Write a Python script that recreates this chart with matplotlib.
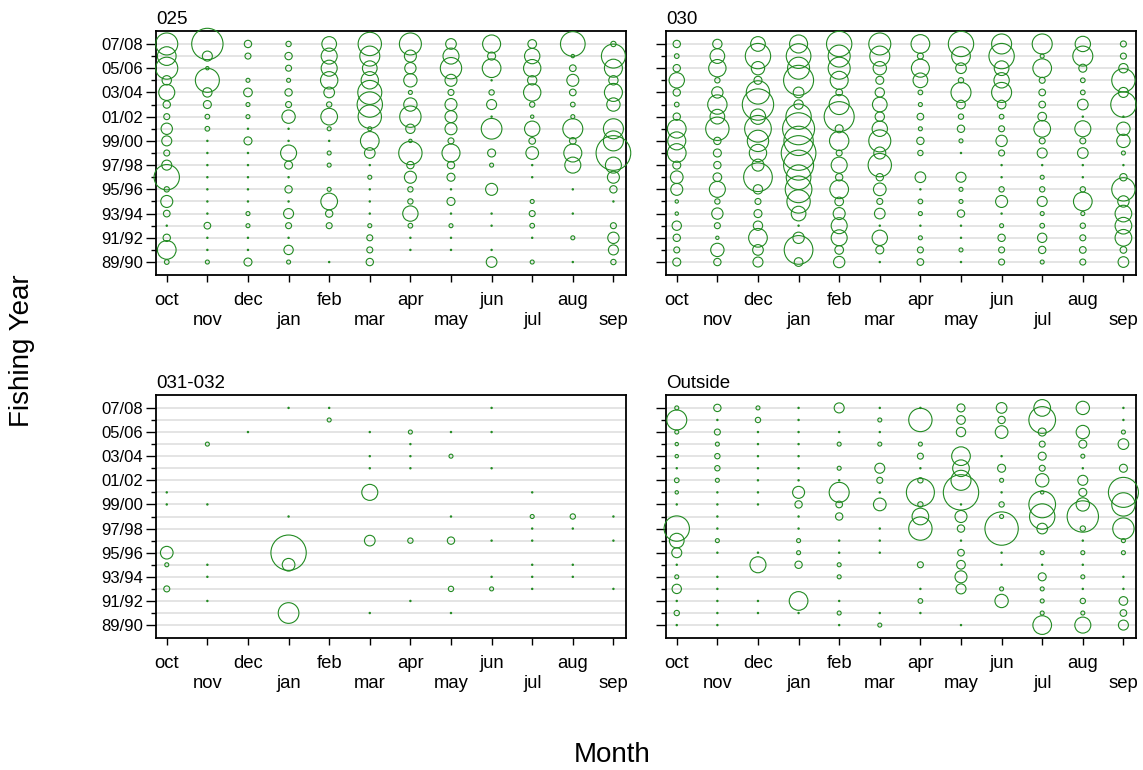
import numpy as np
import matplotlib
matplotlib.use("Agg")
import matplotlib.pyplot as plt

plt.rcParams['font.family'] = ['Liberation Sans', 'DejaVu Sans']

months = ['oct', 'nov', 'dec', 'jan', 'feb', 'mar', 'apr', 'may', 'jun', 'jul', 'aug', 'sep']
# fishing years from top (07/08) to bottom (89/90)
years_desc = ['07/08', '06/07', '05/06', '04/05', '03/04', '02/03', '01/02', '00/01', '99/00',
              '98/99', '97/98', '96/97', '95/96', '94/95', '93/94', '92/93', '91/92', '90/91', '89/90']
panel_names = ['025', '030', '031-032', 'Outside']

# relative catch, one list per month (values listed from 07/08 down to 89/90)
catch_025 = [
    [1089, 784, 1089, 196, 576, 121, 81, 289, 225, 81, 225, 1444, 64, 324, 100, 4, 121, 784, 49],
    [2209, 225, 25, 1296, 196, 144, 49, 49, 4, 4, 4, 4, 4, 4, 4, 100, 4, 4, 36],
    [121, 81, 0, 36, 169, 36, 36, 4, 144, 4, 4, 4, 4, 4, 36, 36, 4, 4, 144],
    [64, 121, 81, 36, 121, 81, 400, 4, 4, 576, 144, 4, 121, 4, 225, 81, 4, 196, 36],
    [484, 576, 576, 676, 256, 64, 625, 36, 4, 36, 36, 0, 36, 625, 121, 81, 0, 0, 4],
    [1225, 900, 484, 676, 1296, 1444, 1225, 36, 784, 256, 4, 36, 4, 4, 4, 36, 81, 81, 121],
    [1089, 324, 289, 400, 36, 400, 1024, 196, 25, 1225, 121, 324, 64, 64, 529, 49, 4, 4, 0],
    [256, 576, 1024, 324, 81, 324, 324, 324, 81, 729, 121, 144, 4, 144, 4, 36, 4, 4, 0],
    [729, 144, 784, 4, 64, 225, 4, 961, 0, 144, 36, 0, 324, 0, 4, 4, 0, 4, 256],
    [169, 529, 676, 196, 676, 64, 25, 529, 100, 361, 4, 4, 0, 36, 81, 49, 4, 0, 36],
    [1369, 25, 100, 324, 100, 49, 36, 900, 100, 729, 576, 0, 4, 0, 4, 0, 36, 0, 4],
    [64, 1296, 729, 196, 729, 400, 0, 900, 900, 2704, 576, 324, 121, 4, 0, 81, 289, 225, 64],
]

catch_030 = [
    [121, 49, 121, 529, 121, 49, 121, 784, 729, 784, 144, 361, 324, 25, 25, 196, 121, 81, 144],
    [196, 484, 676, 64, 289, 841, 484, 1225, 121, 144, 121, 169, 576, 64, 289, 81, 25, 400, 121],
    [484, 1444, 400, 144, 1225, 2209, 529, 1600, 1024, 676, 324, 1849, 196, 81, 144, 196, 784, 256, 225],
    [729, 1369, 1089, 2025, 256, 196, 1444, 2304, 1936, 2704, 2025, 1369, 1600, 1225, 484, 4, 289, 1849, 169],
    [1444, 1089, 1089, 729, 100, 900, 2025, 144, 841, 81, 576, 121, 784, 169, 324, 576, 576, 169, 289],
    [1089, 900, 400, 144, 196, 484, 196, 529, 1089, 324, 1225, 121, 361, 81, 256, 4, 529, 144, 4],
    [784, 81, 729, 484, 49, 36, 100, 36, 121, 64, 0, 256, 4, 49, 36, 4, 36, 81, 100],
    [1444, 784, 256, 64, 900, 169, 64, 121, 36, 4, 0, 225, 36, 36, 121, 4, 4, 36, 4],
    [900, 1444, 484, 529, 900, 169, 49, 81, 289, 81, 4, 4, 64, 324, 4, 36, 121, 81, 81],
    [900, 36, 784, 81, 100, 100, 169, 625, 81, 225, 4, 36, 64, 225, 36, 49, 196, 121, 36],
    [529, 900, 144, 49, 49, 256, 4, 576, 81, 256, 4, 4, 64, 784, 36, 64, 81, 100, 81],
    [81, 81, 196, 1225, 225, 1444, 4, 400, 400, 36, 4, 121, 1225, 289, 625, 625, 625, 100, 256],
]

catch_031_032 = [
    [0, 0, 0, 0, 0, 0, 0, 4, 4, 0, 0, 0, 361, 36, 0, 81, 0, 0, 0],
    [0, 0, 0, 36, 0, 0, 0, 0, 4, 0, 0, 0, 0, 4, 4, 0, 4, 0, 0],
    [0, 0, 4, 0, 0, 0, 0, 0, 0, 0, 0, 0, 0, 0, 0, 0, 0, 0, 0],
    [4, 0, 0, 0, 0, 0, 0, 0, 0, 4, 0, 0, 2809, 361, 0, 0, 0, 961, 0],
    [4, 36, 0, 0, 0, 0, 0, 0, 0, 0, 0, 0, 0, 0, 0, 0, 0, 0, 0],
    [0, 0, 4, 0, 4, 4, 0, 576, 0, 0, 0, 256, 0, 0, 0, 0, 0, 4, 0],
    [0, 0, 36, 4, 4, 4, 0, 0, 0, 0, 0, 64, 0, 0, 0, 0, 4, 0, 0],
    [0, 0, 4, 0, 36, 0, 0, 0, 0, 4, 0, 121, 0, 0, 0, 64, 0, 4, 0],
    [4, 0, 4, 0, 0, 4, 0, 0, 0, 0, 0, 4, 0, 0, 4, 36, 0, 0, 0],
    [0, 0, 0, 0, 0, 0, 0, 4, 0, 36, 4, 4, 0, 4, 4, 4, 0, 0, 0],
    [0, 0, 0, 0, 0, 0, 0, 0, 0, 64, 4, 0, 0, 4, 4, 0, 0, 0, 0],
    [0, 0, 0, 0, 0, 0, 0, 0, 0, 4, 0, 4, 0, 0, 0, 4, 0, 0, 0],
]

catch_outside = [
    [36, 900, 36, 25, 25, 4, 49, 25, 4, 0, 1444, 484, 225, 4, 36, 196, 4, 64, 4],
    [121, 4, 81, 36, 64, 64, 36, 4, 4, 4, 4, 36, 4, 0, 4, 4, 4, 4, 4],
    [36, 64, 4, 4, 4, 4, 4, 4, 4, 0, 0, 0, 4, 576, 0, 0, 4, 4, 0],
    [4, 4, 4, 4, 4, 4, 4, 324, 121, 4, 4, 36, 36, 121, 0, 0, 784, 4, 0],
    [225, 0, 4, 36, 0, 36, 4, 900, 100, 121, 0, 4, 4, 36, 36, 0, 4, 36, 4],
    [4, 36, 4, 36, 0, 225, 81, 4, 361, 0, 4, 4, 4, 0, 0, 0, 0, 4, 36],
    [4, 1225, 0, 36, 81, 4, 64, 1764, 64, 625, 1225, 0, 0, 81, 0, 4, 49, 4, 0],
    [144, 169, 196, 0, 784, 625, 900, 2809, 4, 324, 121, 4, 100, 169, 324, 225, 0, 0, 4],
    [256, 121, 361, 0, 4, 144, 36, 4, 64, 36, 2500, 0, 4, 4, 0, 36, 400, 0, 0],
    [625, 1600, 144, 81, 144, 81, 400, 25, 1600, 1444, 256, 0, 36, 4, 144, 36, 36, 36, 784],
    [400, 0, 400, 144, 36, 4, 225, 144, 400, 2209, 64, 4, 36, 4, 36, 4, 64, 36, 576],
    [4, 4, 36, 256, 0, 144, 0, 2025, 1225, 0, 1024, 36, 36, 0, 4, 4, 169, 100, 225],
]

panel_data = [catch_025, catch_030, catch_031_032, catch_outside]

W, H = 1143, 770
fig = plt.figure(figsize=(W / 100, H / 100), dpi=100)

# axes boxes in pixels: (left, top, right, bottom)
boxes = [(156, 31, 626, 275), (666, 31, 1136, 275),
         (156, 395, 626, 638), (666, 395, 1136, 638)]

green = '#228b22'
size_scale = 0.2304  # points^2 per catch unit

n_years = len(years_desc)
years_asc = years_desc[::-1]

for k, (name, data, box) in enumerate(zip(panel_names, panel_data, boxes)):
    l, t, r, b = box
    ax = fig.add_axes([l / W, 1 - b / H, (r - l) / W, (b - t) / H])
    vals = np.array(data, dtype=float)  # months x years(desc)
    mi, yi = np.nonzero(vals > 0)
    xs = mi + 1
    ys = (n_years - 1) - yi
    ax.scatter(xs, ys, s=vals[mi, yi] * size_scale, facecolors='none',
               edgecolors=green, linewidths=0.8, clip_on=False, zorder=3)

    ax.set_xlim(0.735, 12.31)
    ax.set_ylim(-1.07, n_years - 1 + 1.07)

    ax.set_yticks(np.arange(0, n_years, 2))
    ax.set_yticks(np.arange(1, n_years, 2), minor=True)
    if k % 2 == 0:
        ax.set_yticklabels(years_asc[0::2], fontsize=12)
    else:
        ax.set_yticklabels([])
    ax.yaxis.grid(True, which='both', color='#e2e2e2', linewidth=1.3, zorder=0)
    ax.set_axisbelow(True)

    ax.set_xticks(np.arange(1, 13))
    ax.set_xticklabels([m if i % 2 == 0 else '\n' + m for i, m in enumerate(months)],
                       fontsize=13.3)
    for lab in ax.get_xticklabels():
        lab.set_linespacing(1.25)

    ax.tick_params(axis='y', which='major', length=7, width=1, direction='out', pad=2)
    ax.tick_params(axis='y', which='minor', length=3.5, width=1, direction='out')
    ax.tick_params(axis='x', which='major', length=5, width=1, direction='out', pad=7)
    for sp in ax.spines.values():
        sp.set_linewidth(1.3)
        sp.set_color('black')

    ax.set_title(name, loc='left', fontsize=13.5, pad=5)

fig.text(22 / W, 1 - 351 / H, 'Fishing Year', rotation=90, fontsize=20,
         ha='center', va='center')
fig.text(612 / W, 1 - 755 / H, 'Month', fontsize=20, ha='center', va='center')

fig.savefig('out.png', dpi=100)
